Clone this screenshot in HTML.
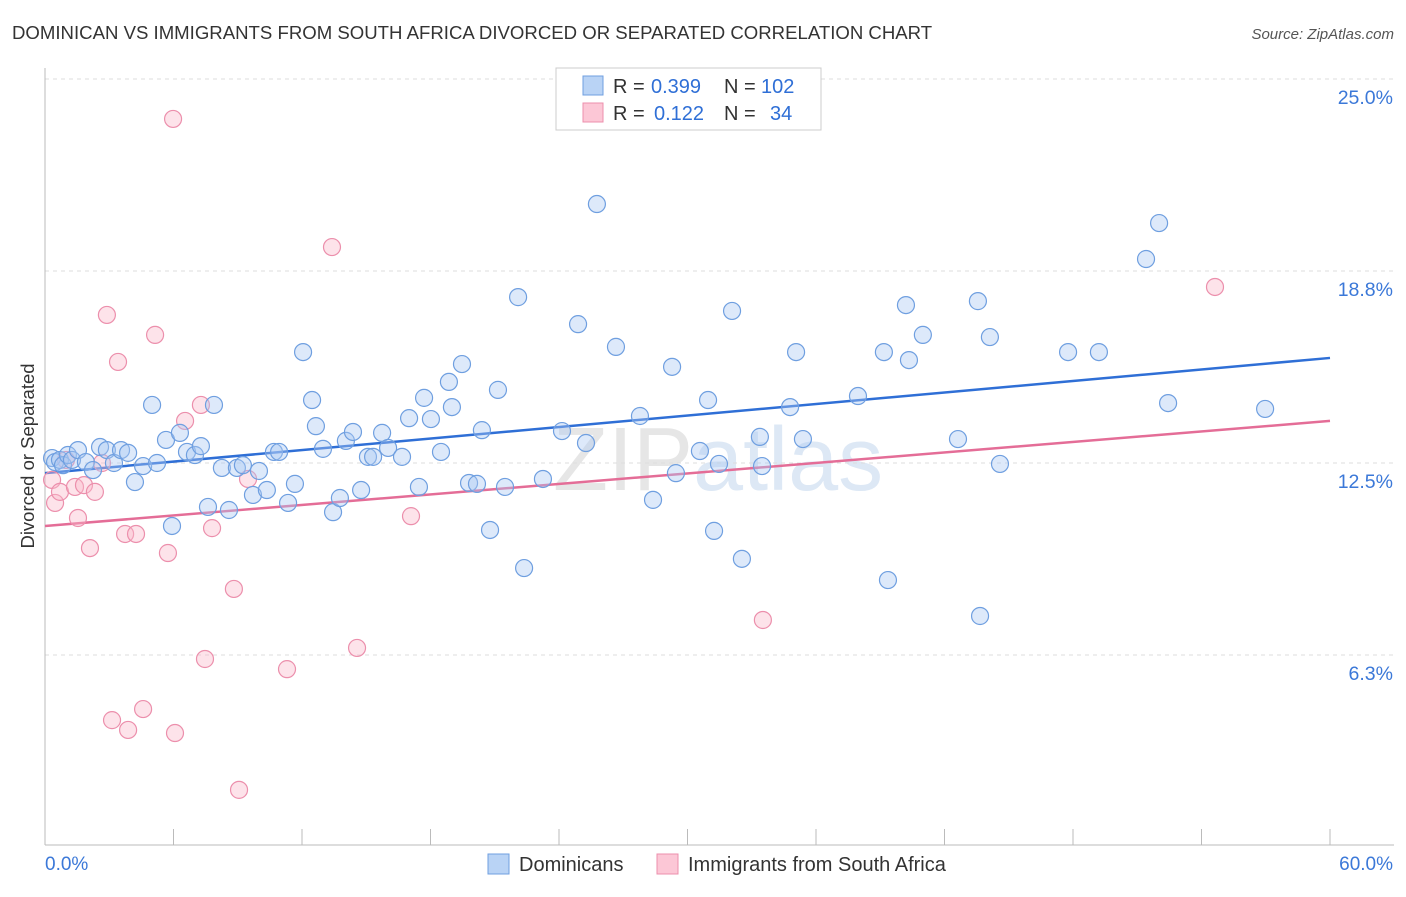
<!DOCTYPE html>
<html><head><meta charset="utf-8"><style>
body{margin:0;background:#fff;font-family:"Liberation Sans",sans-serif;}
svg text{font-family:"Liberation Sans",sans-serif;}
</style></head><body>
<svg id="chart" width="1406" height="892" xmlns="http://www.w3.org/2000/svg">
<text x="12" y="39" font-size="18.6" fill="#333">DOMINICAN VS IMMIGRANTS FROM SOUTH AFRICA DIVORCED OR SEPARATED CORRELATION CHART</text>
<text x="1394" y="39" font-size="15" fill="#555" text-anchor="end" font-style="italic">Source: ZipAtlas.com</text>
<text x="553" y="490" font-size="90" fill="#e6e6e6" font-family="Liberation Serif">ZIP<tspan fill="#dde8f5" font-family="Liberation Sans">atlas</tspan></text>
<text transform="translate(34,456) rotate(-90)" font-size="18.5" fill="#333" text-anchor="middle">Divorced or Separated</text>
<g id="grid"></g><g id="axes"></g><g id="lines"></g><g id="pts"></g>
<g>
<rect x="556" y="68" width="265" height="62" fill="#fff" stroke="#ccc"/>
<rect x="583" y="76" width="20" height="19" fill="#b9d3f5" stroke="#6f9fe0"/>
<rect x="583" y="103" width="20" height="19" fill="#fcc7d6" stroke="#ec8fac"/>
<text y="93" font-size="20" fill="#333"><tspan x="613">R =</tspan><tspan x="651" fill="#2f6fd6">0.399</tspan><tspan x="724">N =</tspan><tspan x="761" fill="#2f6fd6">102</tspan></text>
<text y="120" font-size="20" fill="#333"><tspan x="613">R =</tspan><tspan x="654" fill="#2f6fd6">0.122</tspan><tspan x="724">N =</tspan><tspan x="770" fill="#2f6fd6">34</tspan></text>
</g>
<g>
<rect x="488" y="854" width="21" height="20" fill="#b9d3f5" stroke="#6f9fe0"/>
<text x="519" y="871" font-size="20" fill="#333">Dominicans</text>
<rect x="657" y="854" width="21" height="20" fill="#fcc7d6" stroke="#ec8fac"/>
<text x="688" y="871" font-size="20" fill="#333">Immigrants from South Africa</text>
</g>
</svg>
<script>
const yTicks=[6.25,12.5,18.75,25];
const yTickLabels=["6.3%","12.5%","18.8%","25.0%"];
const xTicks=[0,6,12,18,24,30,36,42,48,54,60];
const blueX=[0.33,0.47,0.70,0.84,1.07,1.26,1.54,1.91,2.24,2.57,2.89,3.22,3.55,3.88,4.20,4.58,5.0,5.23,5.65,5.93,6.30,6.63,7.0,7.28,7.61,7.89,8.26,8.59,8.96,9.24,9.71,9.99,10.36,10.69,10.93,11.35,11.67,12.05,12.47,12.65,12.98,13.45,13.77,14.05,14.38,14.76,15.08,15.32,15.74,16.02,16.67,17.0,17.46,17.70,18.02,18.49,18.86,19.0,19.47,19.80,20.17,20.40,20.78,21.15,21.48,22.09,22.37,23.25,24.14,24.89,25.26,25.77,26.66,27.78,28.39,29.28,29.46,30.58,30.96,31.24,31.47,32.08,32.54,33.38,33.48,34.79,35.07,35.39,37.96,39.17,39.36,40.20,40.34,40.99,42.63,43.56,43.66,44.12,44.59,47.77,49.21,51.41,52.02,52.44,56.97];
const blueY=[12.66,12.53,12.6,12.43,12.76,12.6,12.92,12.53,12.27,13.02,12.92,12.5,12.92,12.83,11.88,12.4,14.39,12.5,13.25,10.45,13.48,12.86,12.76,13.05,11.07,14.39,12.34,10.97,12.34,12.43,11.46,12.24,11.62,12.86,12.86,11.2,11.82,16.11,14.55,13.7,12.96,10.9,11.36,13.22,13.51,11.62,12.7,12.7,13.48,12.99,12.7,13.96,11.72,14.62,13.93,12.86,15.14,14.32,15.72,11.85,11.82,13.57,10.32,14.88,11.72,17.9,9.08,11.98,13.54,17.02,13.15,20.93,16.28,14.03,11.3,15.63,12.17,12.89,14.55,10.29,12.47,17.45,9.38,13.35,12.4,14.32,16.11,13.28,14.68,16.11,8.69,17.64,15.85,16.67,13.28,17.77,7.52,16.6,12.47,16.11,16.11,19.14,20.31,14.45,14.26];
const pinkX=[0.33,0.47,0.70,0.98,1.40,1.54,1.82,2.10,2.33,2.66,2.89,3.13,3.41,3.74,3.88,4.25,4.58,5.14,5.74,5.98,6.07,6.54,7.28,7.47,7.80,8.82,9.06,9.48,11.3,13.40,14.57,17.09,33.52,54.63];
const pinkY=[11.95,11.2,11.56,12.6,11.72,10.71,11.78,9.73,11.56,12.5,17.32,4.13,15.79,10.19,3.81,10.19,4.49,16.67,9.57,23.7,3.71,13.87,14.39,6.12,10.38,8.4,1.86,11.98,5.79,19.53,6.48,10.77,7.39,18.23];
const blueTrend=[12.17,15.92];
const pinkTrend=[10.45,13.87];
const NS="http://www.w3.org/2000/svg";
const X0=45,X1=1330,Y0=847;
const sx=v=>X0+(X1-X0)*v/60;
const sy=v=>Y0-v*30.72;
function mk(tag,attrs,parent){const e=document.createElementNS(NS,tag);for(const k in attrs)e.setAttribute(k,attrs[k]);document.getElementById(parent).appendChild(e);return e;}
yTicks.forEach((t,i)=>{
 const g=mk('line',{x1:X0,x2:1394,y1:sy(t),y2:sy(t),stroke:'#ddd','stroke-dasharray':'4,4'},'grid');
 
 
 const l=mk('text',{x:1393,y:sy(t)+25,'font-size':19.5,fill:'#3b78d8','text-anchor':'end'},'axes');
 l.textContent=yTickLabels[i];
 
 
});
const ax=mk('line',{x1:X0,x2:X0,y1:68,y2:845,stroke:'#bbb'},'axes');


const bx=mk('line',{x1:X0,x2:1394,y1:845,y2:845,stroke:'#bbb'},'axes');


xTicks.forEach(t=>{
 const k=mk('line',{x1:sx(t),x2:sx(t),y1:829,y2:845,stroke:'#bbb'},'axes');
 
 
});
const xl0=mk('text',{x:45,y:870,'font-size':19,fill:'#3b78d8'},'axes');xl0.textContent='0.0%';


const xl1=mk('text',{x:1393,y:870,'font-size':19,fill:'#3b78d8','text-anchor':'end'},'axes');xl1.textContent='60.0%';


function pts(xs,ys,fill,stroke,name){xs.forEach((x,i)=>{
 const c=mk('circle',{cx:sx(x),cy:sy(ys[i]),r:8.5,fill:fill,'fill-opacity':0.4,stroke:stroke,'stroke-width':1.2},'pts');
 
 
});}
pts(pinkX,pinkY,'#f9b8cb','#ec8fac','south-africa-point');
pts(blueX,blueY,'#a9c8f2','#6f9fe0','dominican-point');
const b=mk('line',{x1:sx(0),x2:sx(60),y1:sy(blueTrend[0]),y2:sy(blueTrend[1]),stroke:'#2f6fd6','stroke-width':2.5},'lines');


const p=mk('line',{x1:sx(0),x2:sx(60),y1:sy(pinkTrend[0]),y2:sy(pinkTrend[1]),stroke:'#e46d97','stroke-width':2.5},'lines');


</script>
</body></html>
